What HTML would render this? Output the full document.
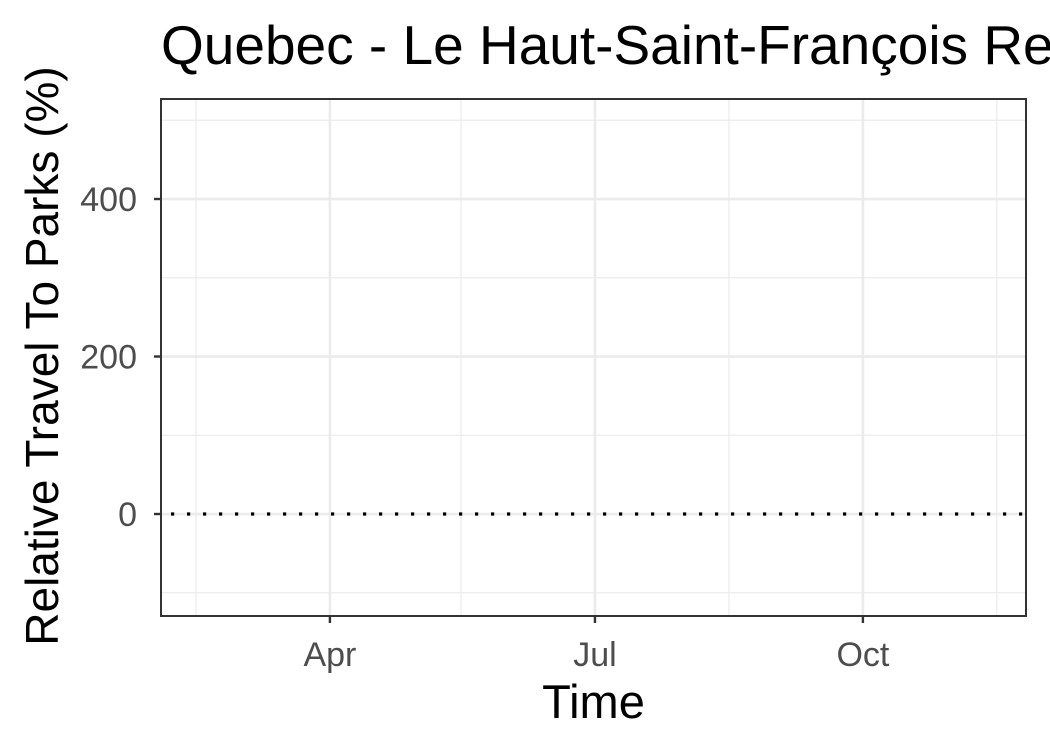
<!DOCTYPE html>
<html><head><meta charset="utf-8">
<style>
html,body{margin:0;padding:0;background:#fff;}
svg{display:block;font-family:"Liberation Sans",Arial,sans-serif;}
</style></head>
<body>
<svg id="chart" width="1050" height="750" viewBox="0 0 1050 750">
  <text x="161" y="64" font-size="55" fill="#000">Quebec - Le Haut-Saint-François Regional County Municipality</text>
  <g id="grid"></g>
  <g id="marks"></g>
  <rect x="161" y="99" width="865" height="517" fill="none" stroke="#333" stroke-width="2"/>
  <g id="axes"></g>
  <text x="593.5" y="718" font-size="47" text-anchor="middle" fill="#000">Time</text>
  <text transform="translate(58,356) rotate(-90)" font-size="46" text-anchor="middle" fill="#000">Relative Travel To Parks (%)</text>
</svg>
<script>
const yMajorTicks = [0, 200, 400];
const yMinorTicks = [-100, 100, 300, 500];
const xMajorDates = ["2020-04-01", "2020-07-01", "2020-10-01"];
const xMajorLabels = ["Apr", "Jul", "Oct"];
const xMinorDates = ["2020-02-15", "2020-05-16", "2020-08-16", "2020-11-16"];
const referenceValues = [0];
const xDomain = ["2020-02-03", "2020-11-26"];
const yDomain = [-129.5, 527];

const L=161,R=1026,T=99,B=616;
const NS="http://www.w3.org/2000/svg";
const t=d=>new Date(d+"T00:00:00Z").getTime();
const x=d=>L+(t(d)-t(xDomain[0]))/(t(xDomain[1])-t(xDomain[0]))*(R-L);
const y=v=>B-(v-yDomain[0])/(yDomain[1]-yDomain[0])*(B-T);
function mk(tag,attrs,parent){const e=document.createElementNS(NS,tag);for(const k in attrs)e.setAttribute(k,attrs[k]);parent.appendChild(e);return e;}
const grid=document.getElementById('grid'),axes=document.getElementById('axes'),marks=document.getElementById('marks');

yMinorTicks.forEach(v=>{const e=mk('line',{x1:L,x2:R,y1:y(v),y2:y(v),stroke:'#ebebeb','stroke-width':1.2},grid);

});
xMinorDates.forEach(d=>{const e=mk('line',{x1:x(d),x2:x(d),y1:T,y2:B,stroke:'#ebebeb','stroke-width':1.2},grid);

});
yMajorTicks.forEach(v=>{const e=mk('line',{x1:L,x2:R,y1:y(v),y2:y(v),stroke:'#ebebeb','stroke-width':2.6},grid);


const tk=mk('line',{x1:L-7,x2:L,y1:y(v),y2:y(v),stroke:'#333','stroke-width':2.4},axes);


const lb=mk('text',{x:L-24,y:y(v)+12,'font-size':34,'text-anchor':'end',fill:'#4d4d4d'},axes);
lb.textContent=v;

});
xMajorDates.forEach((d,i)=>{const e=mk('line',{x1:x(d),x2:x(d),y1:T,y2:B,stroke:'#ebebeb','stroke-width':2.6},grid);


const tk=mk('line',{x1:x(d),x2:x(d),y1:B,y2:B+7,stroke:'#333','stroke-width':2.4},axes);


const lb=mk('text',{x:x(d),y:B+50,'font-size':34,'text-anchor':'middle',fill:'#4d4d4d'},axes);
lb.textContent=xMajorLabels[i];

});
referenceValues.forEach(v=>{const e=mk('line',{x1:L,x2:R,y1:y(v),y2:y(v),stroke:'#000','stroke-width':3.2,'stroke-dasharray':'3.2 12.8','stroke-dashoffset':-10},marks);

});
</script>
</body></html>
